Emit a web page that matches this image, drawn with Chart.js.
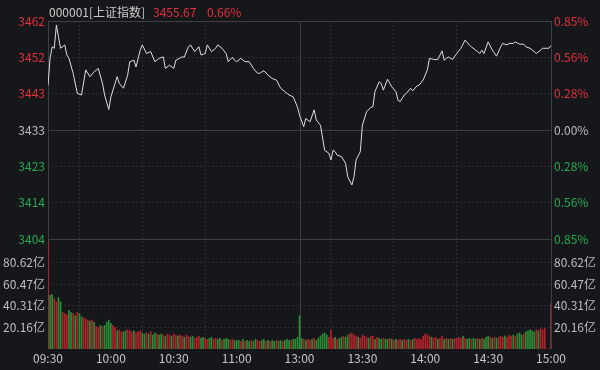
<!DOCTYPE html>
<html><head><meta charset="utf-8">
<script src="https://cdn.jsdelivr.net/npm/chart.js@4/dist/chart.umd.min.js"></script>
<style>html,body{margin:0;padding:0;background:#16171b;}canvas{display:block}</style>
</head><body>
<canvas id="c" width="600" height="370"></canvas>
<script>
// ---------------- data ----------------
const indexName = '000001[上证指数]';
const lastPriceText = '3455.67';
const lastPctText = '0.66%';
const prevClose = 3433.02;
const timeTickMinutes = [0, 30, 60, 90, 120, 150, 180, 210, 240];
const timeLabels = ['09:30', '10:00', '10:30', '11:00', '13:00', '13:30', '14:00', '14:30', '15:00'];
const priceTickLabels = ['3404', '3414', '3423', '3433', '3443', '3452', '3462'];
const pctTickLabels = ['0.85%', '0.56%', '0.28%', '0.00%', '0.28%', '0.56%', '0.85%'];
const volTickValues = [20.16, 40.31, 60.47, 80.62];
const volTickLabels = ['20.16亿', '40.31亿', '60.47亿', '80.62亿'];

const priceMinutes = [
  0,1,2,3,4,5,6,8,9,10,
  12,14,16,18,20,22,24,26,27,29,
  30,33,34,36,38,39,41,42,44,45,
  47,49,51,53,55,56,58,60,61,64,
  65,67,68,70,72,73,75,76,78,80,
  81,83,85,86,88,89,90,92,94,96,
  98,100,101,103,105,107,109,111,113,115,
  117,119,120,122,123,125,127,128,130,132,
  134,135,136,137,138,140,142,143,145,146,
  147,149,150,152,154,155,156,158,159,160,
  162,164,166,167,168,170,171,173,174,176,
  177,179,181,182,184,186,188,189,191,193,
  195,197,199,201,202,204,205,206,207,208,
  210,212,214,216,217,219,220,222,223,225,
  227,228,230,232,233,235,236,239,240
];
const priceValues = [
  3445.0,3452.3,3455.3,3454.9,3461.1,3458.0,3454.9,3455.8,3453.1,3452.2,
  3448.2,3442.8,3442.4,3449.1,3447.3,3448.6,3449.5,3445.5,3442.4,3438.5,
  3441.9,3447.3,3445.5,3444.2,3447.7,3451.3,3451.7,3449.9,3454.4,3455.8,
  3453.5,3454.0,3451.3,3452.2,3452.6,3449.5,3450.4,3449.5,3451.7,3452.6,
  3452.5,3455.3,3455.8,3454.0,3455.3,3453.1,3453.5,3455.8,3454.0,3454.9,
  3455.8,3454.9,3453.5,3451.3,3452.5,3451.7,3451.3,3452.2,3451.3,3451.3,
  3449.5,3448.2,3448.2,3448.9,3447.7,3446.8,3446.4,3444.2,3443.3,3442.4,
  3441.9,3439.2,3437.0,3433.9,3436.1,3435.2,3438.4,3435.7,3434.3,3427.6,
  3426.8,3425.0,3427.6,3427.2,3426.3,3425.9,3424.1,3420.5,3418.3,3420.5,
  3425.0,3427.2,3434.3,3437.9,3439.1,3439.2,3443.3,3445.9,3445.5,3443.7,
  3446.6,3444.6,3443.3,3441.0,3440.6,3442.4,3442.8,3444.2,3443.5,3444.8,
  3445.0,3446.4,3449.1,3452.2,3451.9,3451.9,3454.2,3451.7,3452.6,3451.9,
  3453.5,3454.9,3457.1,3455.8,3455.3,3454.4,3454.0,3453.5,3454.4,3453.5,
  3456.6,3454.4,3452.8,3455.3,3456.2,3455.8,3456.2,3456.2,3456.6,3456.0,
  3456.0,3455.3,3454.9,3454.0,3453.5,3454.4,3454.9,3454.9,3455.67
];
// turnover per minute, 亿 (index = minute from 09:30)
const volumes = [
  100,50,51,47,44,48,44,34,33,32,
  36,34,33,31,34,33,30,29,28,27,
  26,27,25,21,20,22,21,22,25,27,
  24,22,20,17,18,16,16,17,18,17,
  16,17,15,16,17,15,14,15,14,16,
  13,15,14,13,14,13,12,14,13,12,
  14,13,12,13,12,11,13,12,11,12,
  10,11,12,10,11,10,9,10,11,9,
  10,9,10,8,9,10,9,8,9,8,
  8,8,7,9,7,8,7,8,7,9,
  8,7,8,9,7,8,7,8,7,8,
  7,8,7,8,9,8,8,9,9,11,
  31,10,9,8,9,8,9,10,8,10,
  12,14,15,13,11,18,10,11,9,10,
  11,12,11,13,14,15,13,12,11,10,
  13,12,11,10,12,12,9,11,10,9,
  10,9,9,10,9,8,9,8,9,8,
  9,8,9,8,9,10,9,10,9,12,
  14,13,12,11,10,11,9,10,12,9,
  10,9,10,9,10,10,11,10,12,10,
  9,10,9,10,9,10,9,10,9,11,
  12,11,10,11,10,11,12,11,12,11,
  13,12,13,12,14,15,13,14,16,17,
  18,17,16,18,17,19,18,19,0,0,
  43
];
// R = up minute (red), G = down minute (green)
const volDirection = (
  'RGGRRGGRRR' + 'GGRGRGGRRR' + 'GRGRRGRGGG' + 'GRRGRRGGRR' + 'RGRRRGGRGR' +
  'GGRGGRGRRG' + 'RRGRRGRRGG' + 'RRRGGRRGGR' + 'RGGRGGGRRG' + 'GGRGRGGRGG' +
  'RRGGRGRGGR' + 'GGRGGGRGGG' + 'GGRGRRGRGG' + 'GGGGRRRGRG' + 'GRGGRRRRGR' +
  'RRRGRRGRGG' + 'RGGRGRGRRG' + 'RRGRGRRRRR' + 'RRRGRRGRRG' + 'RGRGRRRRGR' +
  'GGRGGRGRGG' + 'GRGRGRRRGR' + 'RRGRGGGRGG' + 'GGGRGRRRRR' + 'R'
).split('');

// ---------------- style / layout ----------------
const BG = '#16171b';
const RED = '#e0313c';
const GREEN = '#27a94f';
const GREY_TXT = '#bdbdbd';
const BAR_RED = '#b3222c';
const BAR_GREEN = '#2a8f34';
const DOT_GRID = '#2e2f35';
const SOLID = '#3e3f45';
const FONT = '"Noto Sans CJK SC", "Noto Sans", sans-serif';

const priceHigh = prevClose * 1.0085;
const priceLow = prevClose * 0.9915;
const PRICE_H = 218, VOL_H = 110, VOL_FULL_H = 108;
const volPanelTop = volTickValues[0] * 5;
const volAxisMax = volPanelTop * VOL_H / VOL_FULL_H;
const priceTicks = priceTickLabels.map((_, i) => priceLow + i * (priceHigh - priceLow) / (priceTickLabels.length - 1));

function tickColorByIndex(i) { return i < 3 ? GREEN : (i === 3 ? GREY_TXT : RED); }

const framePlugin = {
  id: 'frame',
  beforeDraw(chart) {
    const ctx = chart.ctx;
    ctx.save();
    ctx.fillStyle = BG;
    ctx.fillRect(0, 0, chart.width, chart.height);
    ctx.restore();
  },
  beforeDatasetsDraw(chart) {
    const {ctx, chartArea: a, scales} = chart;
    ctx.save();
    ctx.strokeStyle = SOLID;
    ctx.lineWidth = 1;
    ctx.beginPath();
    const ys = [scales.y.getPixelForValue(priceHigh), scales.y.getPixelForValue(prevClose), scales.y.getPixelForValue(priceLow)];
    ys.forEach(y => { const yy = Math.round(y) + 0.5; ctx.moveTo(a.left, yy); ctx.lineTo(a.right, yy); });
    const xs = [scales.x.getPixelForValue(0), scales.x.getPixelForValue(120), scales.x.getPixelForValue(240)];
    xs.forEach(x => { const xx = Math.round(x) + 0.5; ctx.moveTo(xx, a.top); ctx.lineTo(xx, a.bottom); });
    ctx.stroke();
    ctx.restore();
  },
  afterDraw(chart) {
    const ctx = chart.ctx;
    const left = chart.chartArea.left;
    ctx.save();
    ctx.font = '12px ' + FONT;
    ctx.textBaseline = 'middle';
    ctx.fillStyle = '#c9c9c9';
    ctx.fillText(indexName, left + 1, 12);
    ctx.fillStyle = RED;
    ctx.fillText(lastPriceText, left + 105, 12);
    ctx.fillText(lastPctText, left + 159, 12);
    ctx.restore();
  }
};

new Chart(document.getElementById('c'), {
  data: {
    datasets: [
      {
        type: 'line',
        data: priceMinutes.map((m, i) => ({x: m, y: priceValues[i]})),
        xAxisID: 'x', yAxisID: 'y',
        borderColor: '#dedede', borderWidth: 1, pointRadius: 0, tension: 0
      },
      {
        type: 'bar',
        data: volumes.map((v, i) => ({x: i, y: v})),
        xAxisID: 'x', yAxisID: 'yv',
        backgroundColor: volDirection.map(d => d === 'R' ? BAR_RED : BAR_GREEN),
        barThickness: 1, borderWidth: 0
      }
    ]
  },
  options: {
    responsive: false, animation: false, devicePixelRatio: 1,
    layout: {padding: {top: 21, left: 0, right: 0, bottom: 0}},
    plugins: {legend: {display: false}, tooltip: {enabled: false}},
    scales: {
      x: {
        type: 'linear', min: 0, max: 240, offset: false, position: 'bottom',
        afterBuildTicks: s => { s.ticks = timeTickMinutes.map(v => ({value: v})); },
        afterFit: s => { s.height = 21; },
        ticks: {autoSkip: false, maxRotation: 0, padding: 2, color: '#c6c6c6', font: {size: 12, family: FONT},
          callback: (v, i) => timeLabels[i]},
        grid: {drawTicks: false, color: c => (c.index === 0 || c.index === 4 || c.index === 8) ? 'transparent' : DOT_GRID},
        border: {display: false, dash: [2, 2]}
      },
      y: {
        type: 'linear', position: 'left', weight: 1, stack: 'L', stackWeight: PRICE_H,
        min: priceLow, max: priceHigh,
        afterBuildTicks: s => { s.ticks = priceTicks.map(v => ({value: v})); },
        afterFit: s => { s.width = 48; },
        ticks: {autoSkip: false, padding: 3, font: {size: 12, family: FONT},
          color: c => tickColorByIndex(c.index), callback: (v, i) => priceTickLabels[i]},
        grid: {drawTicks: false, color: c => (c.index === 0 || c.index === 3 || c.index === 6) ? 'transparent' : DOT_GRID},
        border: {display: false, dash: [2, 2]}
      },
      yv: {
        type: 'linear', position: 'left', weight: 0, stack: 'L', stackWeight: VOL_H,
        min: 0, max: volAxisMax,
        afterBuildTicks: s => { s.ticks = volTickValues.map(v => ({value: v})); },
        afterFit: s => { s.width = 48; },
        ticks: {autoSkip: false, padding: 3, font: {size: 12, family: FONT}, color: GREY_TXT,
          callback: (v, i) => volTickLabels[i]},
        grid: {drawTicks: false, color: DOT_GRID},
        border: {display: false, dash: [2, 2]}
      },
      y2: {
        type: 'linear', position: 'right', weight: 0, stack: 'R', stackWeight: PRICE_H,
        min: priceLow, max: priceHigh,
        afterBuildTicks: s => { s.ticks = priceTicks.map(v => ({value: v})); },
        afterFit: s => { s.width = 49; },
        ticks: {autoSkip: false, padding: 3, font: {size: 12, family: FONT},
          color: c => tickColorByIndex(c.index), callback: (v, i) => pctTickLabels[6 - i]},
        grid: {drawOnChartArea: false, drawTicks: false},
        border: {display: false}
      },
      yv2: {
        type: 'linear', position: 'right', weight: 1, stack: 'R', stackWeight: VOL_H,
        min: 0, max: volAxisMax,
        afterBuildTicks: s => { s.ticks = volTickValues.map(v => ({value: v})); },
        afterFit: s => { s.width = 49; },
        ticks: {autoSkip: false, padding: 3, font: {size: 12, family: FONT}, color: GREY_TXT,
          callback: (v, i) => volTickLabels[i]},
        grid: {drawOnChartArea: false, drawTicks: false},
        border: {display: false}
      }
    }
  },
  plugins: [framePlugin]
});
</script>
</body></html>
